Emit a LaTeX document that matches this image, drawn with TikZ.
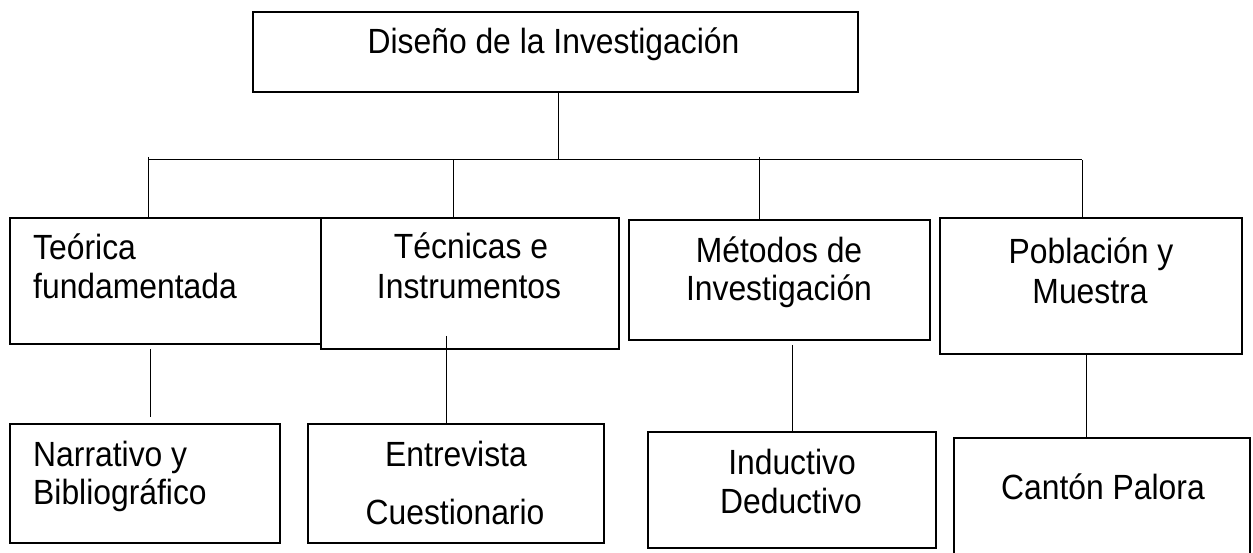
\documentclass[tikz,border=0pt]{standalone}
\usepackage{fontspec}
\setmainfont{Liberation Sans}[FakeStretch=0.91]
\begin{document}
\begin{tikzpicture}[x=1bp,y=-1bp,
  box/.style={draw=black,line width=2bp,fill=white,rectangle,inner sep=0pt,outer sep=0pt},
  conn/.style={draw=black,line width=1bp},
  lbl/.style={inner sep=0pt,anchor=base,font=\fontsize{35bp}{40bp}\selectfont},
  lbll/.style={lbl,anchor=base west}]
\useasboundingbox[fill=white] (0,0) rectangle (1253,553);
% level 0
\node[box,minimum width=605bp,minimum height=80bp] (top) at (555.5,52) {};
% level 1
\node[box,minimum width=327bp,minimum height=126bp] (b1) at (173.5,281) {};
\node[box,minimum width=298bp,minimum height=131bp] (b2) at (470,283.5) {};
\node[box,minimum width=301bp,minimum height=120bp] (b3) at (779.5,280) {};
\node[box,minimum width=302bp,minimum height=136bp] (b4) at (1091,286) {};
% level 2
\node[box,minimum width=270bp,minimum height=119bp] (c1) at (145,483.5) {};
\node[box,minimum width=296bp,minimum height=119bp] (c2) at (456,483.5) {};
\node[box,minimum width=288bp,minimum height=116bp] (c3) at (792,490) {};
\node[box,minimum width=296bp,minimum height=124bp] (c4) at (1102,500) {};
% texts
\node[lbl] (t0) at (553.5,54) {Diseño de la Investigación};
\node[lbll] (t1a) at (33,260) {Teórica};
\node[lbll] (t1b) at (33,299) {fundamentada};
\node[lbl] (t2a) at (471,259) {Técnicas e};
\node[lbl] (t2b) at (469,299) {Instrumentos};
\node[lbl] (t3a) at (779,263) {Métodos de};
\node[lbl] (t3b) at (779,301) {Investigación};
\node[lbl] (t4a) at (1091,264) {Población y};
\node[lbl] (t4b) at (1090,304) {Muestra};
\node[lbll] (t5a) at (33,466) {Narrativo y};
\node[lbll] (t5b) at (33,504) {Bibliográfico};
\node[lbl] (t6a) at (456,466) {Entrevista};
\node[lbl] (t6b) at (455,524) {Cuestionario};
\node[lbl] (t7a) at (792,474) {Inductivo};
\node[lbl] (t7b) at (791,513) {Deductivo};
\node[lbl] (t8) at (1103,499) {Cantón Palora};
% connectors
\coordinate (bus) at (558,160);
\coordinate (busL) at (148,160);
\coordinate (busR) at (1082,160);
\coordinate (j1) at (148,157);
\coordinate (j2) at (453,160);
\coordinate (j3) at (759,157);
\draw[conn] (top.south -| bus) -- (bus);
\draw[conn] (busL) -- (busR);
\draw[conn] (j1) -- (j1 |- b1.north);
\draw[conn] (j2) -- (j2 |- b2.north);
\draw[conn] (j3) -- (j3 |- b3.north);
\draw[conn] (busR) -- (busR |- b4.north);
\coordinate (u1) at (150,349);
\coordinate (d1) at (150,417);
\coordinate (u2) at (446,336);
\coordinate (u3) at (792,345);
\coordinate (u4) at (1086,354);
\draw[conn] (u1) -- (d1);
\draw[conn] (u2) -- (u2 |- c2.north);
\draw[conn] (u3) -- (u3 |- c3.north);
\draw[conn] (u4) -- (u4 |- c4.north);
\end{tikzpicture}
\end{document}
